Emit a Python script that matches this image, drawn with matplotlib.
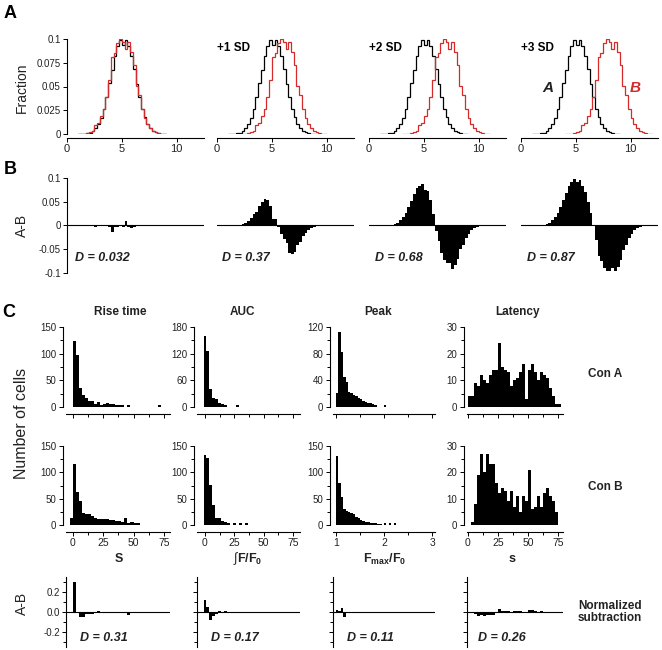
import numpy as np
import matplotlib
matplotlib.use('Agg')
import matplotlib.pyplot as plt
from matplotlib.ticker import MultipleLocator, NullFormatter

plt.rcParams['font.family'] = ['Liberation Sans', 'DejaVu Sans']
plt.rcParams['mathtext.fontset'] = 'custom'
plt.rcParams['mathtext.rm'] = 'Liberation Sans'
plt.rcParams['mathtext.bf'] = 'Liberation Sans:bold'
plt.rcParams['mathtext.it'] = 'Liberation Sans:italic'
plt.rcParams['axes.unicode_minus'] = False
plt.rcParams['axes.linewidth'] = 0.8

# ---- panel A / B : simulated distributions (fraction per 0.25 bin) ----
bin_w = 0.25
hist_start = 1.0
frac_a = [0.0001, 0.0002, 0.0004, 0.0008, 0.0015, 0.0033, 0.0058, 0.0106,
          0.0170, 0.0268, 0.0385, 0.0533, 0.0678, 0.0825, 0.0928, 0.0985,
          0.0940, 0.0990, 0.0930, 0.0818, 0.0682, 0.0528, 0.0390, 0.0265,
          0.0174, 0.0102, 0.0060, 0.0031, 0.0017, 0.0008, 0.0003, 0.0001]
frac_b = [0.0001, 0.0002, 0.0004, 0.0008, 0.0016, 0.0032, 0.0098, 0.0116,
          0.0190, 0.0258, 0.0392, 0.0573, 0.0808, 0.0855, 0.0960, 0.0995,
          0.0970, 0.0900, 0.0970, 0.0868, 0.0722, 0.0508, 0.0410, 0.0262,
          0.0172, 0.0105, 0.0058, 0.0032, 0.0016, 0.0009, 0.0003, 0.0001]
sd_shift = [0, 1, 2, 3]
sd_labels = ['', '+1 SD', '+2 SD', '+3 SD']
d_top = ['D = 0.032', 'D = 0.37', 'D = 0.68', 'D = 0.87']

# ---- panel C : cell histograms ----
rise_a = [123, 97, 35, 22, 17, 12, 11, 5, 9, 4, 5, 7, 6, 5, 4, 3, 3, 0, 3,
          0, 0, 0, 0, 0, 0, 0, 0, 0, 3]
rise_b = [13, 115, 62, 45, 22, 21, 20, 17, 14, 11, 12, 11, 12, 10, 10, 8, 7,
          5, 14, 4, 5, 4, 3]
auc_a = [160, 127, 41, 21, 17, 8, 7, 4, 0, 0, 0, 4]
auc_b = [133, 128, 76, 38, 14, 14, 7, 5, 3, 0, 3, 0, 3, 0, 3]
peak_a = [21, 112, 83, 45, 38, 22, 21, 18, 17, 13, 12, 9, 7, 6, 6, 5, 3,
          0, 0, 0, 3]
peak_b = [131, 80, 53, 30, 27, 25, 22, 20, 15, 13, 10, 8, 6, 5, 4, 3, 3, 2,
          2, 0, 3, 0, 3, 0, 3]
lat_a = [4, 4, 9, 8, 12, 10, 9, 12, 14, 14, 24, 15, 14, 13, 8, 10, 11, 13,
         16, 3, 14, 16, 13, 10, 13, 12, 11, 7, 4, 1, 1]
lat_b = [0, 1, 8, 19, 27, 20, 27, 23, 23, 16, 12, 14, 13, 9, 13, 7, 11, 5,
         11, 9, 21, 6, 7, 11, 7, 12, 14, 11, 9, 5]

# normalized subtraction
rise_diff = [0.30, -0.01, -0.05, -0.045, -0.02, -0.015, -0.015, -0.01, 0.012,
             -0.005, 0.0, -0.005, -0.01, -0.008, -0.005, -0.005, -0.01,
             -0.005, -0.03, -0.008, -0.005, -0.005, 0.0, 0.0, 0.0, 0.0, 0.0,
             0.0, 0.003]
auc_diff = [0.12, 0.05, -0.08, -0.04, -0.02, 0.01, -0.01, 0.01, -0.005,
            0.005, 0.0, 0.003, 0.0, -0.003]
peak_diff = [0.02, 0.01, 0.04, -0.045, -0.01, -0.01, -0.005, -0.008, -0.005,
             0.003, -0.003, 0.0, 0.005, -0.003, 0.004, 0.0, -0.004, 0.003,
             0.0, 0.005, 0.0, -0.003, 0.0, 0.003]
lat_diff = [-0.005, -0.01, -0.02, -0.035, -0.03, -0.035, -0.03, -0.03,
            -0.025, 0.005, 0.03, 0.015, 0.01, 0.015, 0.005, 0.01, 0.015, 0.01,
            0.005, -0.01, 0.02, 0.025, 0.01, 0.005, 0.01, 0.005, 0.0, -0.01,
            0.005, 0.0, 0.0]
d_bottom = ['D = 0.31', 'D = 0.17', 'D = 0.11', 'D = 0.26']
col_titles = ['Rise time', 'AUC', 'Peak', 'Latency']
col_xlabels = [r'$\mathbf{S}$', r'$\int\mathbf{F/F_0}$',
               r'$\mathbf{F_{max}/F_0}$', r'$\mathbf{s}$']

W, H = 662, 650
RED = '#d42a2a'
TXT = '#222222'

fig = plt.figure(figsize=(W / 100, H / 100), dpi=100)


def px_axes(x0, y0, x1, y1):
    return fig.add_axes([x0 / W, 1 - y1 / H, (x1 - x0) / W, (y1 - y0) / H])


def ftext(x, y, s, **kw):
    kw.setdefault('ha', 'center')
    kw.setdefault('va', 'center')
    fig.text(x / W, 1 - y / H, s, **kw)


def style(ax, left=True, bottom=True, bottom_off=0, left_off=0):
    ax.patch.set_alpha(0)
    for s in ['top', 'right']:
        ax.spines[s].set_visible(False)
    ax.spines['left'].set_visible(left)
    ax.spines['bottom'].set_visible(bottom)
    if bottom_off:
        ax.spines['bottom'].set_position(('outward', bottom_off))
    if left_off:
        ax.spines['left'].set_position(('outward', left_off))
    ax.tick_params(which='both', direction='out', width=0.7, colors='black',
                   labelcolor=TXT, labelsize=7, pad=1.5)
    ax.tick_params(which='major', length=3)
    ax.tick_params(which='minor', length=2)
    if not left:
        ax.set_yticks([])
    if not bottom:
        ax.set_xticks([])


# ---------------- panel A and B ----------------
a_left = [67, 217, 369, 521]
a_edges = hist_start + bin_w * np.arange(len(frac_a) + 1)
per_sd = int(round(1 / bin_w))
n_grid = len(frac_a) + per_sd * max(sd_shift)
grid_edges = hist_start + bin_w * np.arange(n_grid + 1)

for i, k in enumerate(sd_shift):
    x0 = a_left[i]
    ax = px_axes(x0, 39, x0 + 137, 134)
    ax.stairs(frac_a, a_edges, color='black', lw=0.9)
    ax.stairs(frac_b, a_edges + k, color=RED, lw=0.9)
    ax.set_xlim(0, 12.5)
    ax.set_ylim(0, 0.1)
    style(ax, left=(i == 0), bottom=True, bottom_off=3)
    ax.set_xticks([0, 5, 10])
    ax.tick_params(axis='x', labelsize=8)
    if i == 0:
        ax.set_yticks([0, 0.025, 0.05, 0.075, 0.1])
        ax.set_yticklabels(['0', '0.025', '0.05', '0.075', '0.1'])
    if sd_labels[i]:
        ftext(x0, 48, sd_labels[i], ha='left', fontsize=8.5,
              fontweight='bold', color='black')

    diff = np.zeros(n_grid)
    diff[:len(frac_a)] += frac_a
    diff[per_sd * k:per_sd * k + len(frac_b)] -= np.array(frac_b)
    axb = px_axes(x0, 178, x0 + 137, 273)
    axb.stairs(diff, grid_edges, fill=True, color='black', lw=0)
    axb.axhline(0, color='black', lw=0.8)
    axb.set_xlim(0, 12.5)
    axb.set_ylim(-0.1, 0.1)
    style(axb, left=(i == 0), bottom=False)
    if i == 0:
        axb.set_yticks([-0.1, -0.05, 0, 0.05, 0.1])
        axb.set_yticklabels(['-0.1', '-0.05', '0', '0.05', '0.1'])
    ftext(x0 + 8 if i == 0 else x0 + 5 if i == 1 else x0 + 6, 258, d_top[i],
          ha='left', fontsize=9, fontweight='bold', fontstyle='italic',
          color=TXT)

ftext(548, 88, 'A', fontsize=11, fontweight='bold', fontstyle='italic',
      color='#222222')
ftext(635, 88, 'B', fontsize=11, fontweight='bold', fontstyle='italic',
      color=RED)

# ---------------- panel C ----------------
c_box = [(66, 170), (197, 300), (333, 435), (467, 563)]
c_xlim = [(-5.5, 80), (-6.8, 81), (0.94, 3.06), (-0.8, 79.2)]
c_major = [25, 25, 1, 25]
c_minor = [12.5, 12.5, 0.5, 12.5]
hist_a = [rise_a, auc_a, peak_a, lat_a]
hist_b = [rise_b, auc_b, peak_b, lat_b]
start_a = [0, -1.25, 1.0, 0]
start_b = [-2.5, -1.25, 1.0, 0]
width = [2.5, 2.5, 0.05, 2.5]
ylim_a = [(150, 50, 25), (180, 60, 30), (120, 40, 20), (30, 10, 5)]
ylim_b = [(150, 50, 25), (150, 50, 25), (150, 50, 25), (30, 10, 5)]
diffs = [rise_diff, auc_diff, peak_diff, lat_diff]
start_d = [0, -1.25, 1.0, 0]
title_x = [120, 242, 378, 517]
xlab_x = [119, 248, 385, 512]
d_x = [80, 211, 347, 478]

for j in range(4):
    x0, x1 = c_box[j]
    for row, (vals, st, yl, y0, y1) in enumerate([
            (hist_a[j], start_a[j], ylim_a[j], 327, 407),
            (hist_b[j], start_b[j], ylim_b[j], 446, 525)]):
        ax = px_axes(x0, y0, x1, y1)
        edges = st + width[j] * np.arange(len(vals) + 1)
        ax.stairs(vals, edges, fill=True, color='black', lw=0)
        ax.set_xlim(*c_xlim[j])
        ax.set_ylim(0, yl[0])
        style(ax, bottom_off=5, left_off=2.5)
        ax.xaxis.set_major_locator(MultipleLocator(c_major[j]))
        ax.xaxis.set_minor_locator(MultipleLocator(c_minor[j]))
        ax.yaxis.set_major_locator(MultipleLocator(yl[1]))
        ax.yaxis.set_minor_locator(MultipleLocator(yl[2]))
        ax.tick_params(axis='x', labelsize=7.5)
        if row == 0:
            ax.xaxis.set_major_formatter(NullFormatter())

    # normalized subtraction
    axd = px_axes(x0, 577, x1, 647)
    dv = diffs[j]
    d_edges = start_d[j] + width[j] * np.arange(len(dv) + 1)
    axd.stairs(dv, d_edges, fill=True, color='black', lw=0)
    axd.axhline(0, color='black', lw=0.8)
    axd.set_xlim(*c_xlim[j])
    axd.set_ylim(-0.35, 0.35)
    style(axd, bottom=False)
    axd.yaxis.set_major_locator(MultipleLocator(0.2))
    axd.yaxis.set_minor_locator(MultipleLocator(0.1))
    if j == 0:
        axd.yaxis.set_major_formatter(plt.FuncFormatter(lambda v, p: f'{v:.1f}'))
    else:
        axd.yaxis.set_major_formatter(NullFormatter())
    ftext(d_x[j], 638, d_bottom[j], ha='left', fontsize=9, fontweight='bold',
          fontstyle='italic', color=TXT)

    ftext(title_x[j], 312, col_titles[j], fontsize=8.5, fontweight='bold',
          color=TXT)
    ftext(xlab_x[j], 559, col_xlabels[j], fontsize=9, color=TXT)

# row labels
ftext(605, 374, 'Con A', fontsize=8.5, fontweight='bold', color=TXT)
ftext(605, 487, 'Con B', fontsize=8.5, fontweight='bold', color=TXT)
ftext(610, 612, 'Normalized\nsubtraction', fontsize=8.5, fontweight='bold',
      color=TXT, linespacing=1.0)

# axis titles
ftext(22, 88, 'Fraction', rotation=90, fontsize=10, color=TXT)
ftext(22, 225, 'A-B', rotation=90, fontsize=10, color=TXT)
ftext(22, 423, 'Number of cells', rotation=90, fontsize=11.5, color=TXT)
ftext(22, 603, 'A-B', rotation=90, fontsize=10, color=TXT)

# panel letters
ftext(10, 13, 'A', fontsize=13, fontweight='bold')
ftext(10, 169, 'B', fontsize=13, fontweight='bold')
ftext(9, 313, 'C', fontsize=13, fontweight='bold')

fig.savefig('out.png', dpi=100)
